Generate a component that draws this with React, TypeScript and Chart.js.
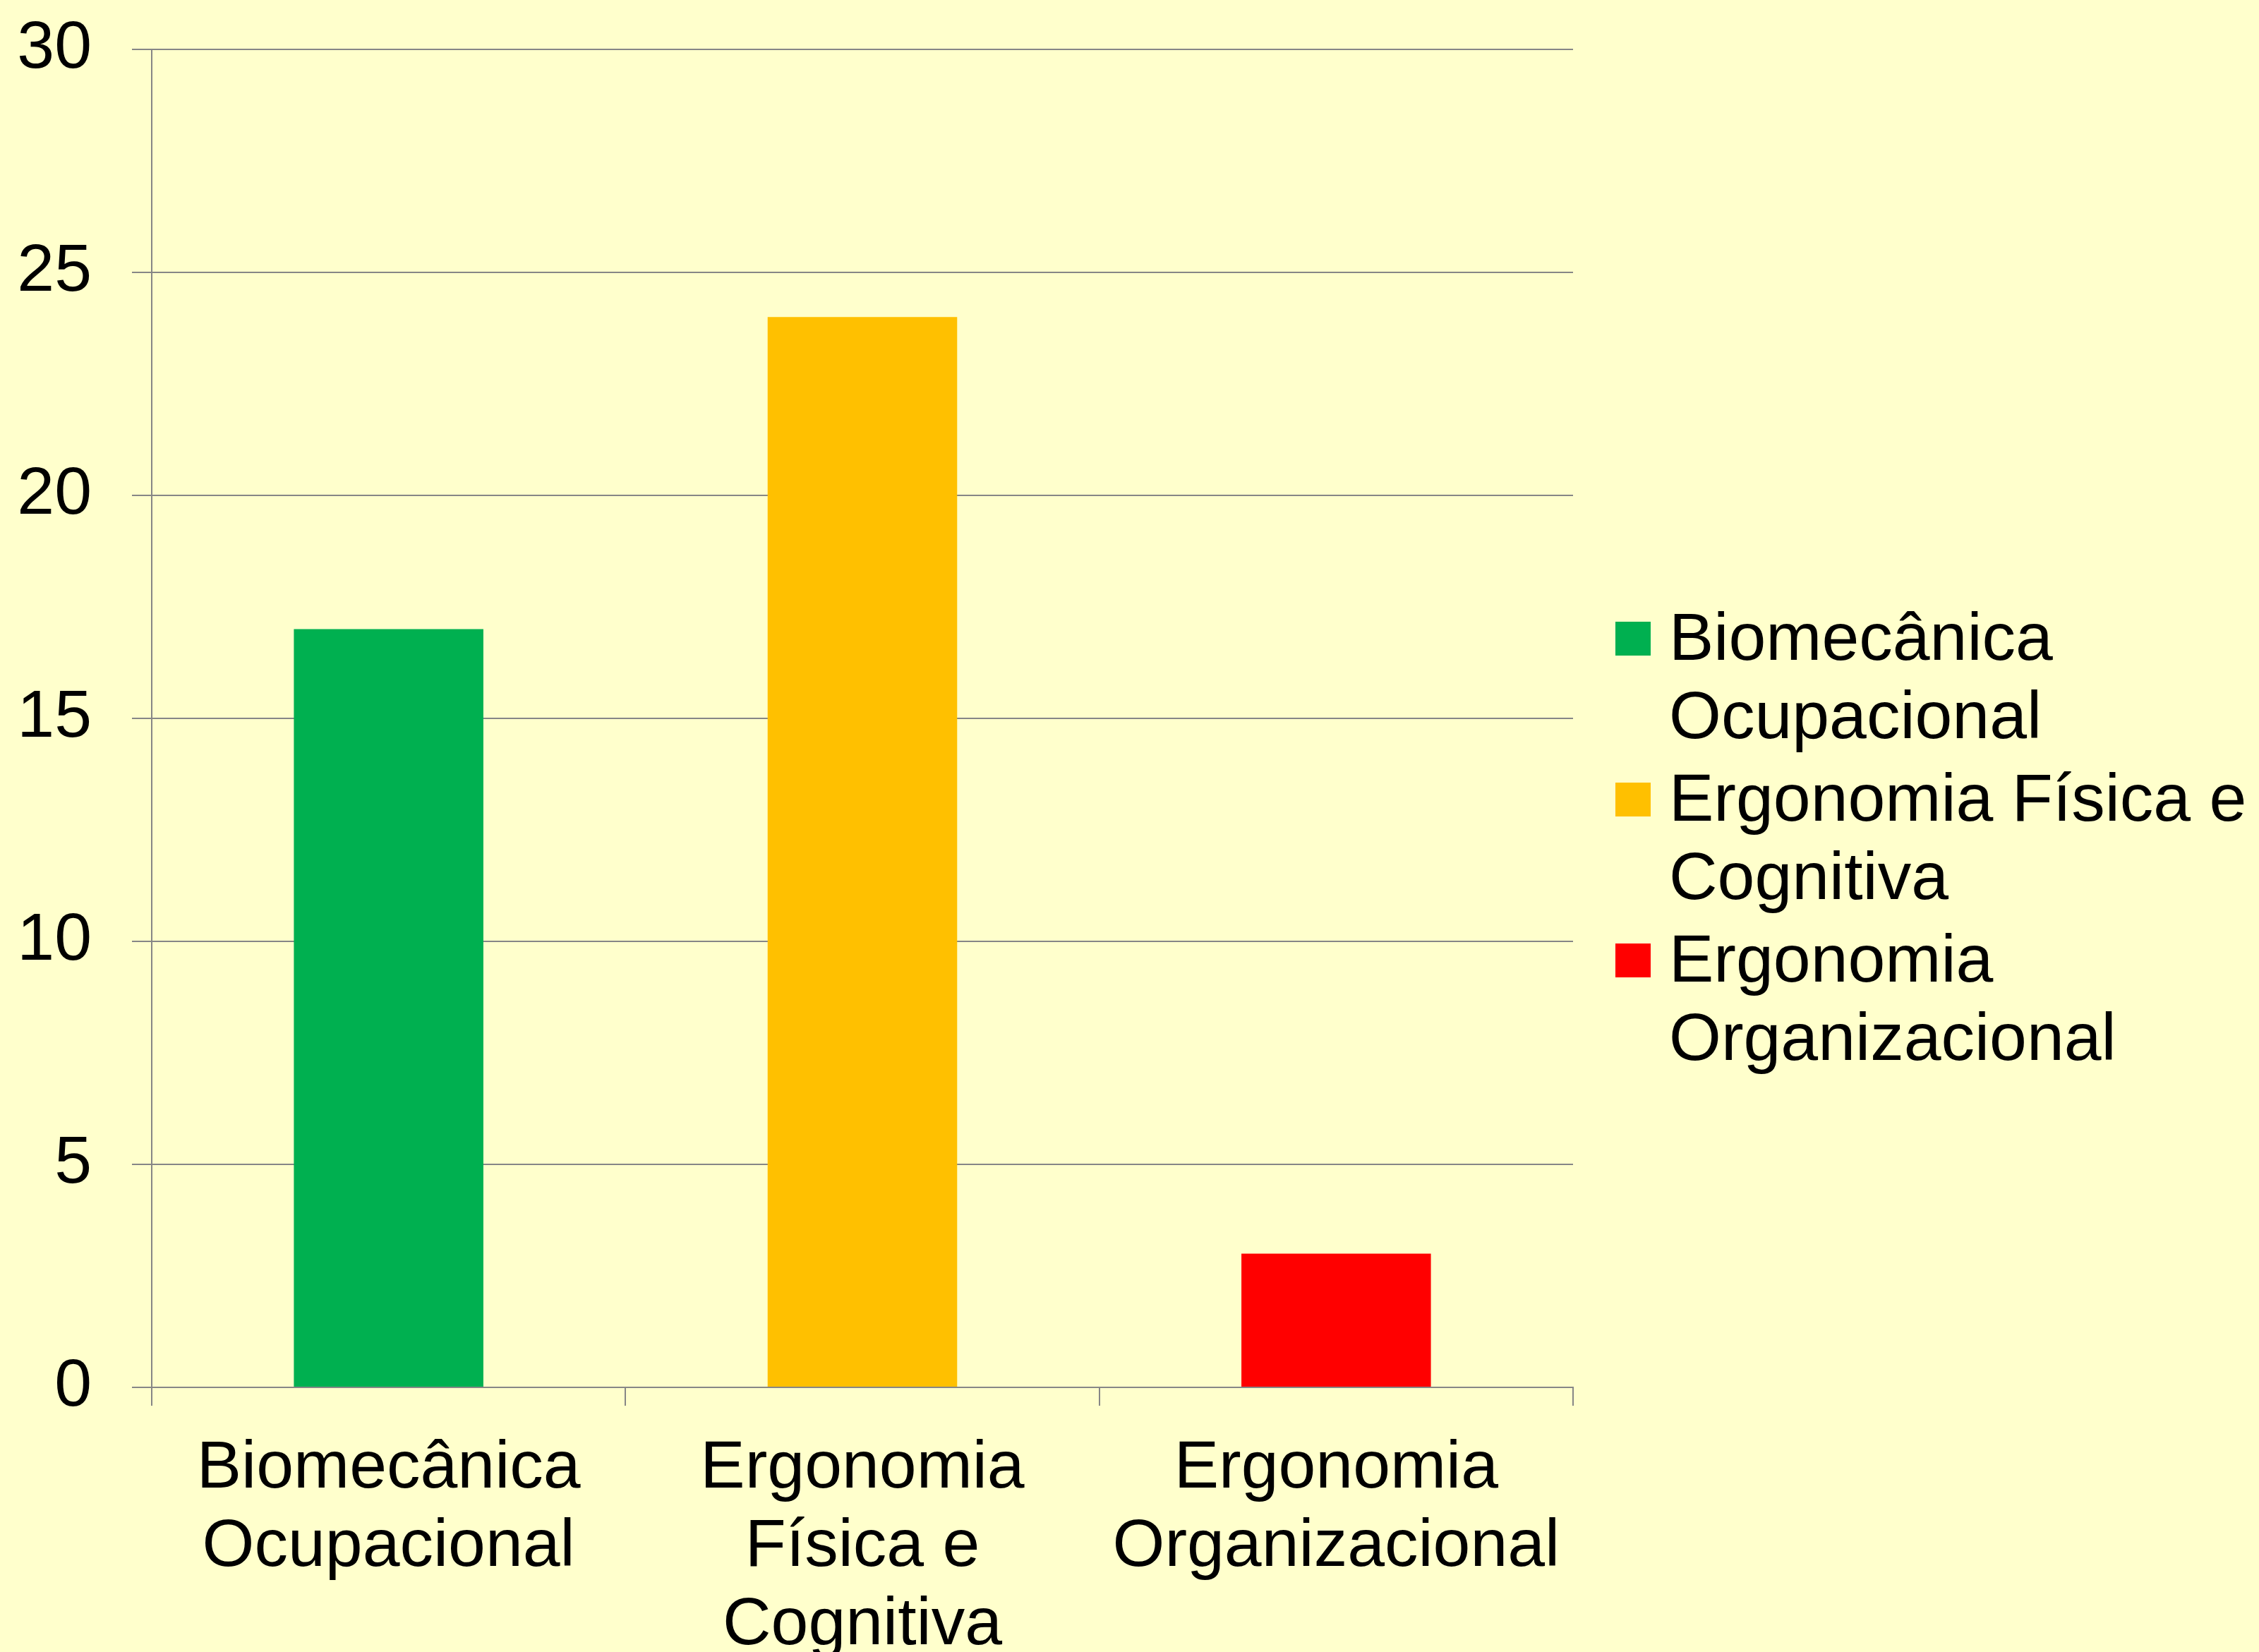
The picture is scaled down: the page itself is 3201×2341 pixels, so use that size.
import React, { useEffect, useRef } from 'react';
import { Chart, registerables } from 'chart.js';

Chart.register(...registerables);

// ---- data ----
const categories: string[][] = [
  ['Biomecânica', 'Ocupacional'],
  ['Ergonomia', 'Física e', 'Cognitiva'],
  ['Ergonomia', 'Organizacional'],
];
const legendLabels: string[][] = [
  ['Biomecânica', 'Ocupacional'],
  ['Ergonomia Física e', 'Cognitiva'],
  ['Ergonomia', 'Organizacional'],
];
const values: number[] = [17, 24, 3];
const barColors: string[] = ['#00B050', '#FFC000', '#FF0000'];
const yTicks: number[] = [0, 5, 10, 15, 20, 25, 30];

// ---- style ----
const W = 3201;
const H = 2341;
const FONT = "'Liberation Sans', Arial, sans-serif";
const FONT_SIZE = 95;
const BG = '#FFFFCC';
const GRID = '#868686';

const bgPlugin = {
  id: 'bgFill',
  beforeDraw(chart: any) {
    const { ctx, width, height } = chart;
    ctx.save();
    ctx.fillStyle = BG;
    ctx.fillRect(0, 0, width, height);
    ctx.restore();
  },
};

const legendPlugin = {
  id: 'sideLegend',
  afterDraw(chart: any) {
    const { ctx, chartArea } = chart;
    const colors = chart.data.datasets[0].backgroundColor as string[];
    const boxX = chartArea.right + 60;
    const boxSize = 49;
    const textX = boxX + 76;
    const lineH = 111;
    const itemGap = 6;
    let baseline = 935;
    ctx.save();
    ctx.font = `${FONT_SIZE}px ${FONT}`;
    ctx.textBaseline = 'alphabetic';
    ctx.textAlign = 'left';
    legendLabels.forEach((lines, i) => {
      ctx.fillStyle = colors[i];
      ctx.fillRect(boxX, baseline - 54, boxSize + 1, boxSize - 1);
      ctx.fillStyle = '#000000';
      lines.forEach((ln, j) => {
        ctx.fillText(ln, textX, baseline + j * lineH);
      });
      baseline += lines.length * lineH + itemGap;
    });
    ctx.restore();
  },
};

export default function App() {
  const canvasRef = useRef<HTMLCanvasElement | null>(null);

  useEffect(() => {
    document.body.style.margin = '0';
    const canvas = canvasRef.current;
    if (!canvas) return;
    const chart = new Chart(canvas, {
      type: 'bar',
      data: {
        labels: categories,
        datasets: [
          {
            data: values,
            backgroundColor: barColors,
            borderWidth: 0,
            categoryPercentage: 1,
            barPercentage: 0.4,
          },
        ],
      },
      plugins: [bgPlugin, legendPlugin],
      options: {
        responsive: false,
        animation: false,
        devicePixelRatio: 1,
        layout: { padding: { top: 70, right: W - 2229, bottom: 0, left: 0 } },
        plugins: {
          legend: { display: false },
          title: { display: false },
          tooltip: { enabled: false },
        },
        scales: {
          x: {
            offset: true,
            afterFit: (scale: any) => {
              scale.height = H - 1966;
              scale.paddingLeft = 0;
              scale.paddingRight = 0;
            },
            grid: {
              display: true,
              offset: true,
              drawOnChartArea: false,
              drawTicks: true,
              tickLength: 26,
              color: GRID,
              lineWidth: 2,
            },
            border: { display: true, color: GRID, width: 2 },
            ticks: {
              color: '#000000',
              padding: 34,
              maxRotation: 0,
              autoSkip: false,
              font: { family: FONT, size: FONT_SIZE, lineHeight: 1.17 },
            },
          },
          y: {
            min: 0,
            max: 30,
            afterFit: (scale: any) => {
              scale.width = 215;
              scale.paddingTop = 0;
              scale.paddingBottom = 0;
            },
            afterBuildTicks: (scale: any) => {
              scale.ticks = yTicks.map((v) => ({ value: v }));
            },
            grid: {
              display: true,
              drawOnChartArea: true,
              drawTicks: true,
              tickLength: 28,
              color: GRID,
              lineWidth: 2,
            },
            border: { display: true, color: GRID, width: 2 },
            ticks: {
              color: '#000000',
              padding: 57,
              font: { family: FONT, size: FONT_SIZE, lineHeight: 1.17 },
            },
          },
        },
      },
    });
    return () => {
      chart.destroy();
    };
  }, []);

  return (
    <div style={{ position: 'absolute', left: 0, top: 0, width: W, height: H, background: BG }}>
      <canvas ref={canvasRef} width={W} height={H} style={{ display: 'block', width: W, height: H }} />
    </div>
  );
}
